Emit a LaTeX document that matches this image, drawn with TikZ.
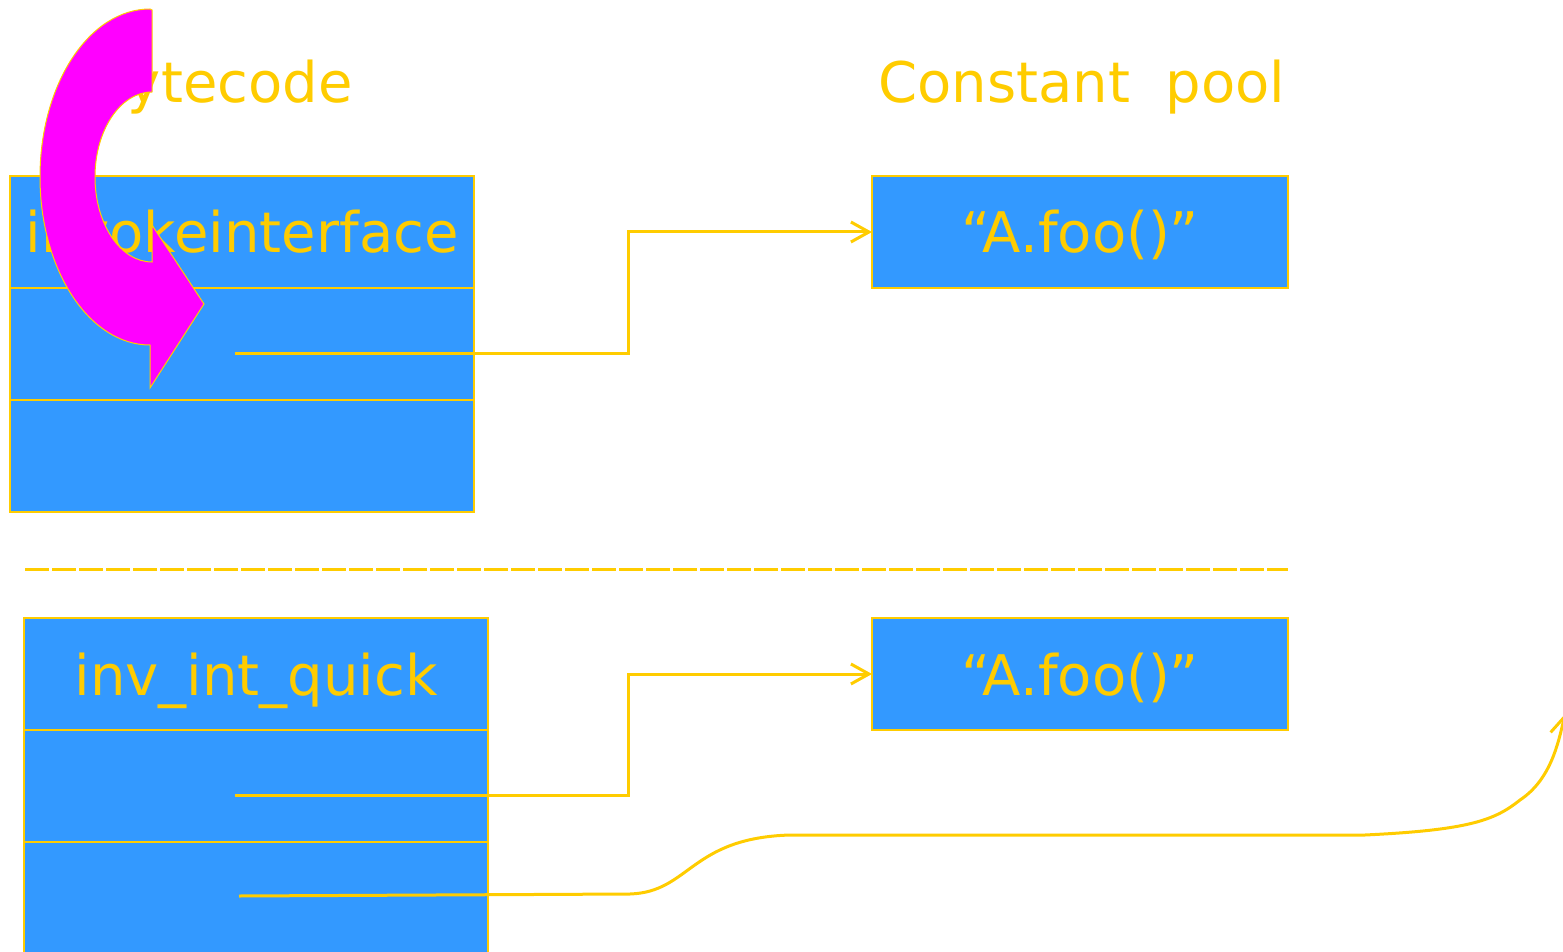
\documentclass[tikz,border=0pt]{standalone}
\usepackage{xcolor}
\usepackage{fontspec}
\setmainfont{DejaVu Sans}
\usepackage{tikz}
\usetikzlibrary{arrows.meta,positioning,calc}
\definecolor{cellblue}{HTML}{3399FF}
\definecolor{gold}{HTML}{FFCC00}
\definecolor{hotpink}{HTML}{FF00FF}

\begin{document}
\begin{tikzpicture}[x=0.5pt, y=-0.5pt, >={Straight Barb[length=9pt,width=10pt]}]
    \tikzstyle{heading} = [text=gold, font=\fontsize{28}{34}\selectfont, anchor=base, inner sep=0pt]
    \tikzstyle{cell} = [rectangle, draw=gold, line width=1pt, fill=cellblue, text=gold, font=\fontsize{28}{34}\selectfont, minimum width=232pt, minimum height=56pt, inner sep=0pt, outer sep=0pt, text height=21pt, text depth=0pt]
    \tikzstyle{pool} = [cell, minimum width=208pt]
    \tikzstyle{conn} = [draw=gold, line width=1.5pt, ->]

    \useasboundingbox (0,0) rectangle (1563,952);

    \node [cell] (invk) at (242,232) {invokeinterface};
    \node [cell, below=0pt of invk] (invkarg) {};
    \node [cell, below=0pt of invkarg] (invkpad) {};
    \node [pool] (pooltop) at (1080,232) {“A.foo()”};

    \node [cell] (quick) at (256,674) {inv\_int\_quick};
    \node [cell, below=0pt of quick] (quickarg) {};
    \node [cell, below=0pt of quickarg] (quickpad) {};
    \node [pool] (poolbot) at (1080,674) {“A.foo()”};

    \node [heading] (bytitle) at (221,103) {Bytecode};
    \node [heading] (pooltitle) at (1082,103) {Constant~~pool};

    \coordinate (argtop) at (235,353);
    \coordinate (argbot) at (235,795);
    \coordinate (padbot) at (239,896);
    \coordinate (offpage) at (1565,714);

    \draw [conn] (argtop) -| ($(pooltop.west)+(-244,0)$) -- (pooltop.west);
    \draw [conn] (argbot) -| ($(poolbot.west)+(-244,0)$) -- (poolbot.west);
    \draw [conn] (padbot) -- (630,894) .. controls (690,892) and (690,838) .. (790,835) -- (1365,835)
        .. controls (1470,830) and (1495,820) .. (1520,800) .. controls (1550,780) and (1558,745) .. (offpage);

    \draw [gold, line width=1.5pt, dash pattern=on 12pt off 1.5pt] (25,569) -- (1288,569);

    \filldraw [fill=hotpink, draw=gold, line width=0.5pt] (152,10) -- (152,92)
        arc [start angle=270, end angle=90, x radius=57, y radius=85] -- (152,225) -- (204,304) -- (150,388) -- (150,345)
        arc [start angle=90, end angle=270, x radius=110, y radius=168] -- cycle;
\end{tikzpicture}
\end{document}
